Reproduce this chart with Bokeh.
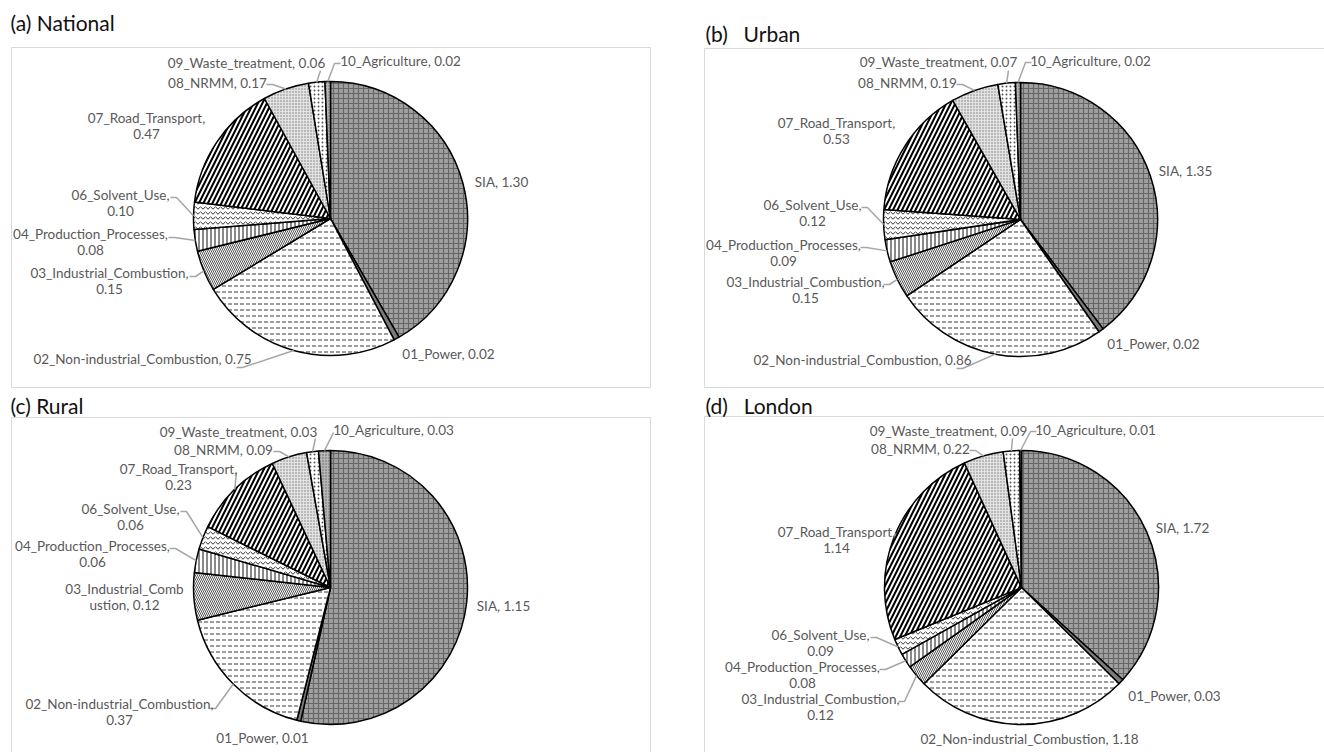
import math
from bokeh.plotting import figure
from bokeh.models import Range1d, ColumnDataSource
from bokeh.core.properties import value
from bokeh.embed import file_html
from bokeh.resources import INLINE

# ---------------- data ----------------
categories = ["SIA", "01_Power", "02_Non-industrial_Combustion", "03_Industrial_Combustion",
              "04_Production_Processes", "06_Solvent_Use", "07_Road_Transport", "08_NRMM",
              "09_Waste_treatment", "10_Agriculture"]
national = [1.30, 0.02, 0.75, 0.15, 0.08, 0.10, 0.47, 0.17, 0.06, 0.02]
urban    = [1.35, 0.02, 0.86, 0.15, 0.09, 0.12, 0.53, 0.19, 0.07, 0.02]
rural    = [1.15, 0.01, 0.37, 0.12, 0.06, 0.06, 0.23, 0.09, 0.03, 0.03]
london   = [1.72, 0.03, 1.18, 0.12, 0.08, 0.09, 1.14, 0.22, 0.09, 0.01]
titles = ["(a) National", "(b)\u2003Urban", "(c) Rural", "(d)\u2003London"]

# ---------------- styles (per category) ----------------
styles = [
    dict(fill="#a0a0a0", hatch="+", hc="#666666", hs=5, hw=1.2),   # SIA
    dict(fill="#7a7a7a", hatch=" ", hc="#000000", hs=4, hw=1),     # 01
    dict(fill="#ffffff", hatch='"', hc="#3a3a3a", hs=6, hw=1),     # 02
    dict(fill="#ffffff", hatch="\\", hc="#555555", hs=4, hw=1),    # 03
    dict(fill="#ffffff", hatch="|", hc="#111111", hs=4, hw=1),     # 04
    dict(fill="#ffffff", hatch="v", hc="#333333", hs=5, hw=1),     # 06
    dict(fill="#ffffff", hatch="/", hc="#000000", hs=9, hw=2.0),   # 07
    dict(fill="#e2e2e2", hatch=".", hc="#7a7a7a", hs=3, hw=1),     # 08
    dict(fill="#ffffff", hatch=".", hc="#555555", hs=4, hw=1),     # 09
    dict(fill="#b5b5b5", hatch=".", hc="#666666", hs=3, hw=1),     # 10
]

LABEL_COLOR = "#595959"
LEADER_COLOR = "#a6a6a6"
FONT = "Lato"

# ---------------- layout (screen px of reference) ----------------
# per label: (center x, first-line center y, split, leader start)
layouts = [
    dict(center=(330, 218), r=137, box=(11, 47, 650, 387), title_xy=(10, 22), labels=[
        (501, 181, None, None), (448, 353, None, None), (142, 358, None, (236, 367)),
        (109, 272, "c", (189, 276)), (90, 233, "c", (168, 237)), (120, 194, "c", (170, 197)),
        (146, 117, "c", None), (217, 82, None, (266, 84)), (246, 62, None, (320, 70)),
        (400, 60, None, (340, 63))]),
    dict(center=(1020, 219), r=137, box=(704, 48, 1340, 387), title_xy=(705, 33), labels=[
        (1185, 170, None, None), (1153, 343, None, None), (862, 359, None, (956, 368)),
        (805, 281, "c", (883, 284)), (783, 244, "c", (860, 247)), (812, 204, "c", (861, 207)),
        (836, 122, "c", None), (907, 82, None, (956, 84)), (938, 61, None, (1008, 70)),
        (1090, 60, None, (1031, 62))]),
    dict(center=(330, 587), r=137, box=(11, 417, 650, 770), title_xy=(10, 405), labels=[
        (503, 605, None, None), (262, 737, None, None), (119, 703, "c", (209, 708)),
        (124, 588, 18, None), (92, 545, "c", (169, 548)), (130, 508, "c", (180, 511)),
        (178, 468, "c", (236, 472)), (223, 449, None, (273, 451)), (238, 431, None, (315, 438)),
        (393, 429, None, (333, 432))]),
    dict(center=(1021, 587), r=137, box=(704, 416, 1340, 770), title_xy=(705, 405), labels=[
        (1182, 527, None, None), (1174, 695, None, None), (1029, 738, None, None),
        (820, 698, "c", (898, 701)), (802, 666, "c", (879, 669)), (820, 634, "c", (870, 637)),
        (836, 531, "c", (895, 533)), (920, 448, None, (969, 450)), (948, 430, None, (1012, 438)),
        (1095, 429, None, (1036, 431))]),
]
series = [national, urban, rural, london]

W, H = 1324, 752


def sy(Y):
    return H - Y


p = figure(width=W, height=H, x_range=Range1d(0, W), y_range=Range1d(0, H),
           x_axis_type=None, y_axis_type=None, output_backend="svg",
           toolbar_location=None, min_border=0)
p.grid.visible = False
p.outline_line_color = None
p.background_fill_color = "white"

tx, ty, tt = [], [], []
lx, ly, lt = [], [], []
lead_xs, lead_ys = [], []

for k, (vals, lay) in enumerate(zip(series, layouts)):
    cx, cy = lay["center"]
    r = lay["r"]
    b = lay["box"]
    p.quad(left=[b[0]], right=[b[2]], top=[sy(b[1])], bottom=[sy(b[3])],
           fill_color=None, line_color="#d9d9d9", line_width=1)
    tx.append(lay["title_xy"][0]); ty.append(sy(lay["title_xy"][1])); tt.append(titles[k])

    total = sum(vals)
    cum = 0.0
    data = dict(x=[], y=[], start=[], end=[], fill=[], hatch=[], hc=[], hs=[], hw=[])
    for i, v in enumerate(vals):
        f0 = cum / total
        cum += v
        f1 = cum / total
        a_start = math.radians(90 - 360 * f1)
        a_end = math.radians(90 - 360 * f0)
        st = styles[i]
        data["x"].append(cx); data["y"].append(sy(cy))
        data["start"].append(a_start); data["end"].append(a_end)
        data["fill"].append(st["fill"]); data["hatch"].append(st["hatch"])
        data["hc"].append(st["hc"]); data["hs"].append(st["hs"]); data["hw"].append(st["hw"])

        # label
        lcx, lcy, split, lead = lay["labels"][i]
        full = f"{categories[i]}, {v:.2f}"
        if split is None:
            lines = [full]
        elif split == "c":
            lines = [categories[i] + ",", f"{v:.2f}"]
        else:
            lines = [full[:split], full[split:]]
        for j, line in enumerate(lines):
            lx.append(lcx); ly.append(sy(lcy + 16.5 * j)); lt.append(line)

        # leader
        if lead is not None:
            mid = math.radians(360 * (f0 + f1) / 2)
            ex, ey = cx + r * math.sin(mid), cy - r * math.cos(mid)
            sx0, sy0 = lead
            if abs(ex - sx0) > 12:
                step = 6 if ex > sx0 else -6
                xs = [sx0, sx0 + step, ex]
                ys = [sy0, sy0, ey]
            else:
                xs = [sx0, ex]
                ys = [sy0, ey]
            lead_xs.append(xs); lead_ys.append([sy(q) for q in ys])

    src = ColumnDataSource(data)
    p.wedge(x="x", y="y", radius=r, start_angle="start", end_angle="end", source=src,
            fill_color="fill", hatch_pattern="hatch", hatch_color="hc", hatch_scale="hs",
            hatch_weight="hw", line_color="black", line_width=1.5)

p.multi_line(xs=lead_xs, ys=lead_ys, line_color=LEADER_COLOR, line_width=1.5)

p.text(x=lx, y=ly, text=lt, text_align="center", text_baseline="middle",
       text_font=value(FONT), text_font_size="13.5px", text_color=LABEL_COLOR)
p.text(x=tx, y=ty, text=tt, text_align="left", text_baseline="middle",
       text_font=value(FONT), text_font_size="21px", text_color="#111111")

open("out.html", "w").write(file_html(p, INLINE))
